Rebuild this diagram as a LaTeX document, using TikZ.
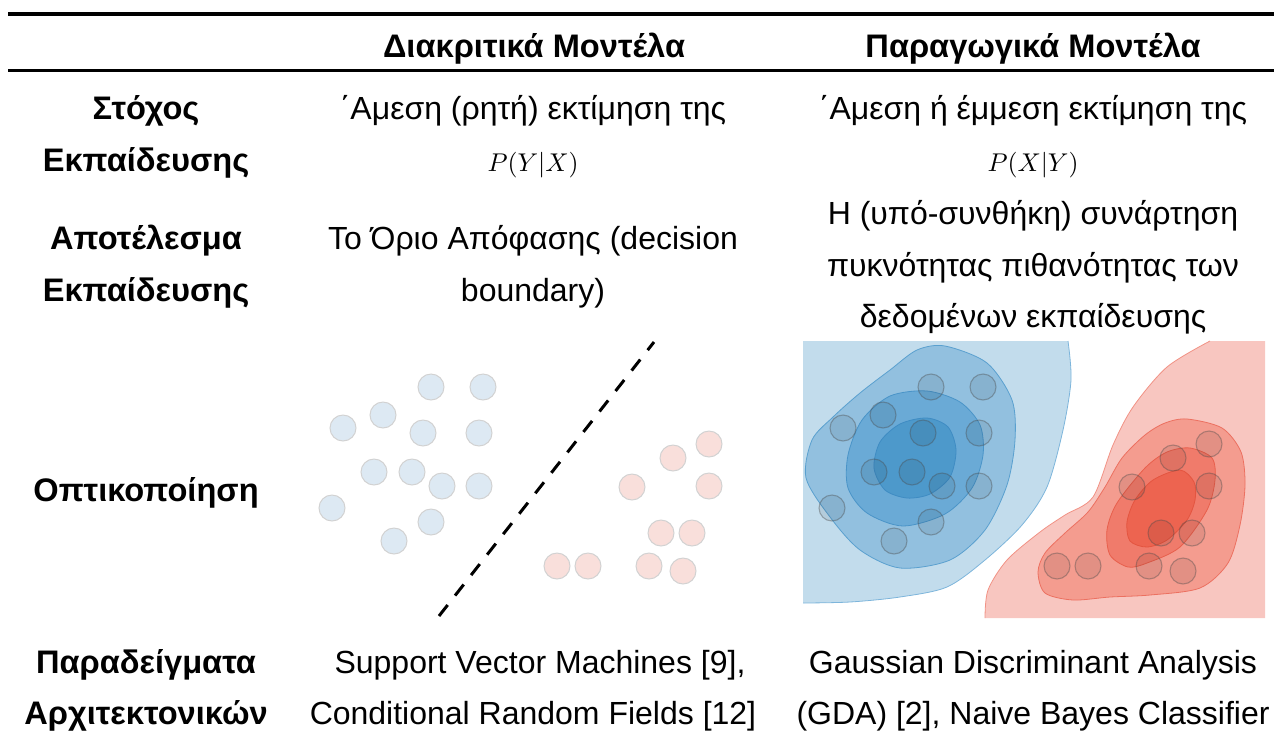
\documentclass[tikz,border=0pt]{standalone}
\usepackage{graphicx}
\usepackage{fontspec}
\setmainfont{Liberation Sans}
\begin{document}
\begin{tikzpicture}[x=1pt,y=-1pt,
  txt/.style={anchor=base, inner sep=0pt, font=\fontsize{32}{52}\selectfont},
  btxt/.style={anchor=base, inner sep=0pt, font=\fontsize{32.6}{52}\selectfont\bfseries},
  mth/.style={anchor=base, inner sep=0pt},
  bdot/.style={circle, minimum size=26pt, inner sep=0pt, fill=blue0, draw=gray!35, line width=1pt},
  rdot/.style={circle, minimum size=26pt, inner sep=0pt, fill=red0, draw=gray!35, line width=1pt},
  gdot/.style={circle, minimum size=26pt, inner sep=0pt, fill=black, fill opacity=0.07, draw=black!70, draw opacity=0.4, line width=1.1pt},
]
\definecolor{blue0}{HTML}{DDE9F3}
\definecolor{red0}{HTML}{F9DFDB}
\definecolor{bA}{HTML}{C2DCEC}
\definecolor{bB}{HTML}{92C0DF}
\definecolor{bC}{HTML}{6AAAD6}
\definecolor{bD}{HTML}{4D99CB}
\definecolor{beA}{HTML}{7DB5DB}
\definecolor{beB}{HTML}{5AA0CF}
\definecolor{beC}{HTML}{4A94C8}
\definecolor{beD}{HTML}{3F8CC3}
\definecolor{rA}{HTML}{F8C6C0}
\definecolor{rB}{HTML}{F49C8F}
\definecolor{rC}{HTML}{F07B6B}
\definecolor{rD}{HTML}{ED6450}
\definecolor{reA}{HTML}{F19285}
\definecolor{reB}{HTML}{EC7060}
\definecolor{reC}{HTML}{E85F4C}
\definecolor{reD}{HTML}{E45540}
\useasboundingbox (0,0) rectangle (1274,740);

% rules
\coordinate (r1a) at (8,14); \coordinate (r1b) at (1274,14);
\coordinate (r2a) at (8,70); \coordinate (r2b) at (1274,70);
\draw[line width=4pt] (r1a) -- (r1b);
\draw[line width=3pt] (r2a) -- (r2b);

% header
\node[btxt] (h2) at (534,57) {Διακριτικά Μοντέλα};
\node[btxt] (h3) at (1033,57) {Παραγωγικά Μοντέλα};

% row 1
\node[btxt] (a1) at (146,119) {Στόχος};
\node[btxt] (a2) at (146,171) {Εκπαίδευσης};
\node[txt] (b1) at (533,119) {΄Αμεση (ρητή) εκτίμηση της};
\node[mth] (b2) at (533,171) {\resizebox{91pt}{!}{$P(Y|X)$}};
\node[txt] (c1) at (1033,119) {΄Αμεση ή έμμεση εκτίμηση της};
\node[mth] (c2) at (1033,171) {\resizebox{91pt}{!}{$P(X|Y)$}};

% row 2
\node[btxt] (a3) at (146,249) {Αποτέλεσμα};
\node[btxt] (a4) at (146,301) {Εκπαίδευσης};
\node[txt] (b3) at (533,249) {Το Όριο Απόφασης (decision};
\node[txt] (b4) at (533,301) {boundary)};
\node[txt] (c3) at (1033,224) {Η (υπό-συνθήκη) συνάρτηση};
\node[txt] (c4) at (1033,276) {πυκνότητας πιθανότητας των};
\node[txt] (c5) at (1033,327) {δεδομένων εκπαίδευσης};

% row 3
\node[btxt] (a5) at (146,501) {Οπτικοποίηση};

% row 4
\node[btxt] (a6) at (146,673) {Παραδείγματα};
\node[btxt] (a7) at (146,724) {Αρχιτεκτονικών};
\node[txt] (b5) at (540,673) {Support Vector Machines [9],};
\node[txt] (b6) at (533,724) {Conditional Random Fields [12]};
\node[txt] (c6) at (1033,673) {Gaussian Discriminant Analysis};
\node[txt] (c7) at (1033,724) {(GDA) [2], Naive Bayes Classifier};

% ---------- left visualisation ----------
\foreach \p [count=\i] in {(431,387),(483,387),(383,415),(343,428),(423,433),(479,433),(374,472),(412,472),(442,486),(479,486),(332,508),(431,522),(394,541)}
  \node[bdot] (lb\i) at \p {};
\foreach \p [count=\i] in {(709,444),(673,458),(632,487),(709,486),(661,533),(692,533),(557,566),(588,566),(649,566),(683,571)}
  \node[rdot] (lr\i) at \p {};
\coordinate (d1) at (439,616);
\coordinate (d2) at (654,342);
\draw[line width=3pt, dash pattern=on 14pt off 12pt] (d1) -- (d2);

% ---------- right visualisation ----------
% blue background
\fill[bA] (803,603) -- (803,341) -- plot[smooth] coordinates {(1068,341) (1071,380) (1063,430) (1047,487) (1022,525) (985,560) (947,587) (900,597) (850,602) (803,603)} -- cycle;
\draw[beA, line width=0.8pt] plot[smooth] coordinates {(1068,341) (1071,380) (1063,430) (1047,487) (1022,525) (985,560) (947,587) (900,597) (850,602) (803,603)};
% blue level 1
\filldraw[fill=bB, draw=beB, line width=0.8pt] plot[smooth cycle] coordinates {(945,346) (987,363) (1012,400) (1015,440) (1007,485) (985,530) (950,560) (900,568) (860,550) (830,517) (806,478) (812,440) (833,417) (860,393) (890,370) (917,350)};
% blue level 2
\filldraw[fill=bC, draw=beC, line width=0.8pt] plot[smooth cycle] coordinates {(927,391) (960,402) (980,425) (983,455) (972,488) (945,514) (903,526) (867,513) (848,488) (848,455) (862,420) (890,396)};
% blue level 3
\filldraw[fill=bD, draw=beD, line width=0.8pt] plot[smooth cycle] coordinates {(927,418) (948,427) (956,450) (950,477) (930,494) (907,498) (885,490) (874,468) (880,442) (900,424)};

% red background
\fill[rA] (1210,341) -- (1265,341) -- (1265,618) -- (985,618) -- plot[smooth] coordinates {(985,618) (988,590) (1007,560) (1040,532) (1065,515) (1093,497) (1113,445) (1133,407) (1167,367) (1210,341)} -- cycle;
\draw[reA, line width=0.8pt] plot[smooth] coordinates {(985,618) (988,590) (1007,560) (1040,532) (1065,515) (1093,497) (1113,445) (1133,407) (1167,367) (1210,341)};
% red level 1
\filldraw[fill=rB, draw=reB, line width=0.8pt] plot[smooth cycle] coordinates {(1187,419) (1222,428) (1241,452) (1245,485) (1240,525) (1228,563) (1200,588) (1150,595) (1110,597) (1073,600) (1045,593) (1038,572) (1045,553) (1065,533) (1088,512) (1105,487) (1122,458) (1145,435) (1165,423)};
% red level 2
\filldraw[fill=rC, draw=reC, line width=0.8pt] plot[smooth cycle] coordinates {(1190,448) (1212,458) (1215,480) (1207,510) (1180,547) (1147,563) (1128,567) (1110,555) (1107,530) (1117,503) (1145,468) (1167,452)};
% red level 3
\filldraw[fill=rD, draw=reD, line width=0.8pt] plot[smooth cycle] coordinates {(1180,470) (1194,482) (1195,500) (1187,520) (1167,540) (1147,547) (1130,541) (1127,522) (1135,500) (1153,480)};

% data points
\foreach \p [count=\i] in {(931,387),(983,387),(883,415),(843,428),(923,433),(979,433),(874,472),(912,472),(942,486),(979,486),(832,508),(931,522),(894,541),(1209,444),(1173,458),(1132,487),(1209,486),(1161,533),(1192,533),(1057,566),(1088,566),(1149,566),(1183,571)}
  \node[gdot] (g\i) at \p {};
\end{tikzpicture}
\end{document}
